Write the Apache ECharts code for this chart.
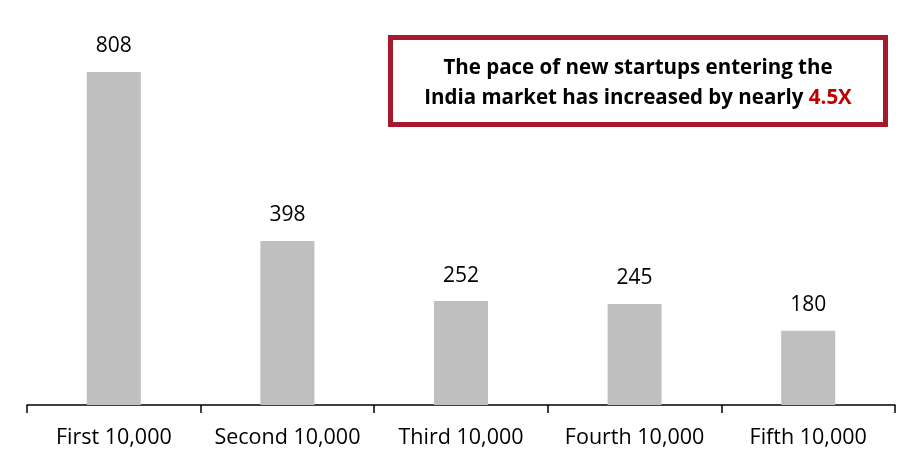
<!DOCTYPE html>
<html><head><meta charset="utf-8">
<script src="https://cdn.jsdelivr.net/npm/echarts@6/dist/echarts.min.js"></script>
<style>html,body{margin:0;padding:0;background:#fff}#c{width:924px;height:465px}</style>
</head><body><div id="c"></div>
<script>
const categories = ["First 10,000", "Second 10,000", "Third 10,000", "Fourth 10,000", "Fifth 10,000"];
const values = [808, 398, 252, 245, 180];
const calloutLine1 = "The pace of new startups entering the";
const calloutLine2a = "India market has increased by nearly ";
const calloutLine2b = "4.5X";

const FONT = "'Open Sans', 'Liberation Sans', sans-serif";
const chart = echarts.init(document.getElementById('c'));
chart.setOption({
  animation: false,
  backgroundColor: '#fff',
  grid: { left: 27, right: 29, top: 34, bottom: 60, containLabel: false },
  xAxis: {
    type: 'category',
    data: categories,
    axisLine: { lineStyle: { color: '#000', width: 1.5 } },
    axisTick: { show: true, alignWithLabel: false, length: 8, inside: false, lineStyle: { color: '#000', width: 1.5 } },
    axisLabel: { color: '#000', fontSize: 21.5, fontFamily: FONT, margin: 22, interval: 0 }
  },
  yAxis: { type: 'value', min: 0, max: 900, show: false, splitLine: { show: false } },
  series: [{
    type: 'bar',
    data: values,
    barWidth: 54,
    itemStyle: { color: '#BFBFBF' },
    label: { show: true, position: 'top', distance: 15, color: '#000', fontSize: 21, fontFamily: FONT }
  }],
  graphic: [
    { type: 'rect', shape: { x: 390.5, y: 37.5, width: 495, height: 87 }, style: { fill: '#fff', stroke: '#A6192E', lineWidth: 5 } },
    { type: 'text', x: 638, y: 68, style: { text: calloutLine1, font: "bold 20.5px " + FONT, fill: '#000', align: 'center', verticalAlign: 'middle' } },
    { type: 'text', x: 638, y: 98, style: { text: '{a|' + calloutLine2a + '}{b|' + calloutLine2b + '}', align: 'center', verticalAlign: 'middle',
      rich: { a: { font: "bold 20.5px " + FONT, fill: '#000' }, b: { font: "bold 20.5px " + FONT, fill: '#C00000' } } } }
  ]
});
</script></body></html>
